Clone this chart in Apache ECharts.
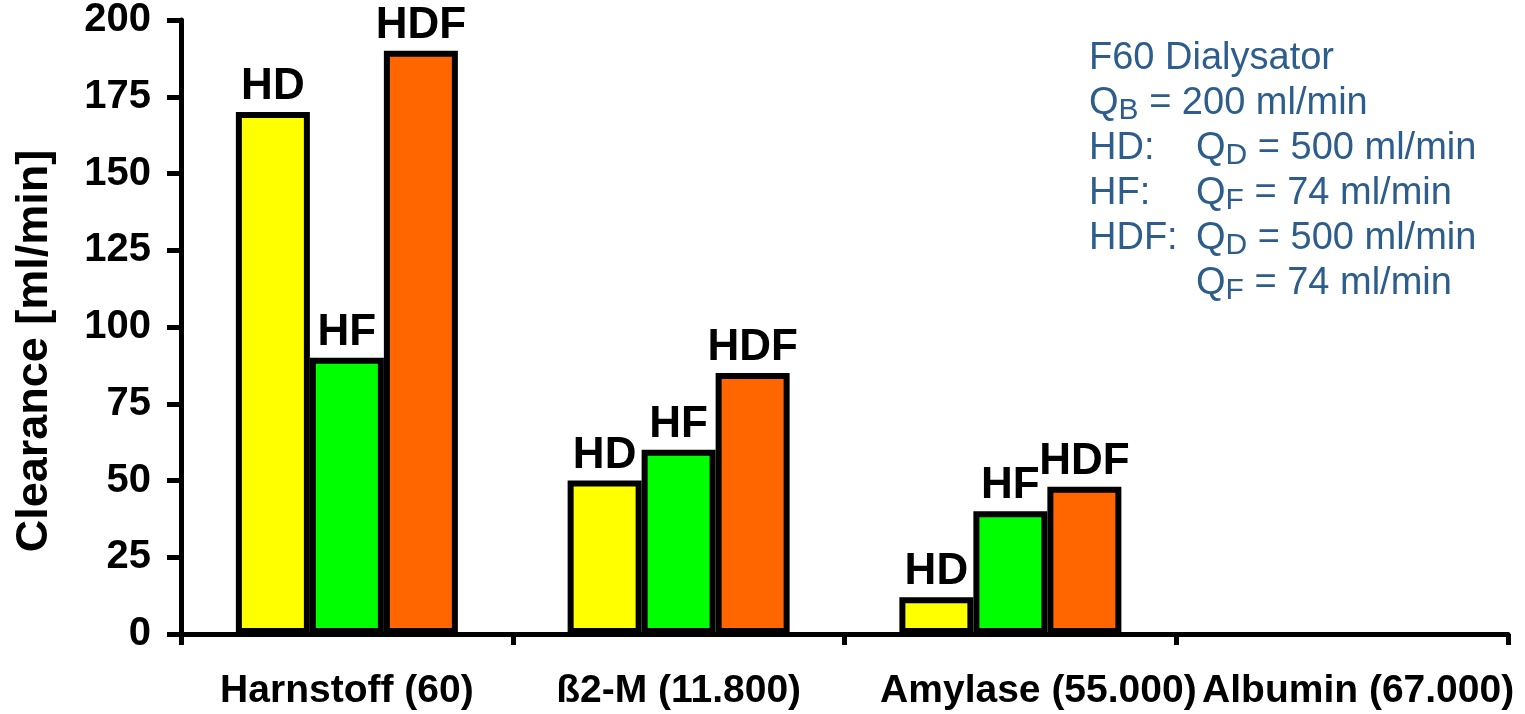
<!DOCTYPE html>
<html>
<head>
<meta charset="utf-8">
<script src="https://cdn.jsdelivr.net/npm/echarts@6/dist/echarts.min.js"></script>
<style>
html,body{margin:0;padding:0;background:#fff;}
#chart{width:1525px;height:714px;}
</style>
</head>
<body>
<div id="chart"></div>
<script>
var categories = ['Harnstoff (60)', 'ß2-M (11.800)', 'Amylase (55.000)', 'Albumin (67.000)'];
var seriesNames = ['HD', 'HF', 'HDF'];
var hdValues = [170, 50, 12, 0];
var hfValues = [90, 60, 40, 0];
var hdfValues = [190, 85, 48, 0];
var yMin = 0, yMax = 200, yInterval = 25;
var yAxisTitle = 'Clearance [ml/min]';
var noteLines = [
  '{m|F60 Dialysator}',
  '{m|Q}{s|B}{m| = 200 ml/min}',
  '{a|HD:}{m|Q}{s|D}{m| = 500 ml/min}',
  '{a|HF:}{m|Q}{s|F}{m| = 74 ml/min}',
  '{a|HDF:}{m|Q}{s|D}{m| = 500 ml/min}',
  '{a| }{m|Q}{s|F}{m| = 74 ml/min}'
];
var labelShift = [0, 0, 56, 32];

var FONT = '"Liberation Sans", Arial, sans-serif';
var colors = ['#FFFF00', '#00FF00', '#FF6600'];
var allValues = [hdValues, hfValues, hdfValues];

var chart = echarts.init(document.getElementById('chart'), null, {renderer: 'canvas'});

var series = seriesNames.map(function (name, i) {
  return {
    name: name,
    type: 'bar',
    data: allValues[i].map(function (v) {
      return v > 0 ? v : {value: v, itemStyle: {borderWidth: 0}};
    }),
    barWidth: 74,
    barGap: '0%',
    itemStyle: {color: colors[i], borderColor: '#000', borderWidth: 6},
    label: {
      show: true,
      position: 'top',
      distance: 3,
      fontFamily: FONT,
      fontWeight: 'bold',
      fontSize: 44,
      color: '#000',
      formatter: function (p) { return p.value > 0 ? p.seriesName : ''; }
    },
    animation: false
  };
});

var NOTE_COLOR = '#2D5D8C';
var CLEAR = 'rgba(0,0,0,0)';
function noteTitle(top, mainColor, subColor) {
  return {
    left: 1089,
    top: top,
    padding: 0,
    text: noteLines.join('\n'),
    textStyle: {
      fontFamily: FONT,
      fontWeight: 'normal',
      fontSize: 38,
      lineHeight: 45,
      color: mainColor,
      rich: {
        m: {fontFamily: FONT, fontSize: 38, lineHeight: 45, color: mainColor},
        a: {fontFamily: FONT, fontSize: 38, lineHeight: 45, color: mainColor, width: 107},
        s: {fontFamily: FONT, fontSize: 30, lineHeight: 45, color: subColor}
      }
    }
  };
}

var option = {
  backgroundColor: '#fff',
  animation: false,
  title: [
    noteTitle(36, NOTE_COLOR, CLEAR),
    noteTitle(43, CLEAR, NOTE_COLOR)
  ],
  grid: {left: 181, right: 17, top: 15, bottom: 80, containLabel: false},
  xAxis: {
    type: 'category',
    data: categories.map(function (c, i) {
      return {value: c, textStyle: {padding: [0, 0, 0, labelShift[i]]}};
    }),
    axisLine: {show: true, onZero: false, lineStyle: {color: '#000', width: 5}},
    axisTick: {show: true, alignWithLabel: false, length: 11, lineStyle: {color: '#000', width: 5}},
    axisLabel: {
      interval: 0,
      margin: 38,
      fontFamily: FONT,
      fontWeight: 'bold',
      fontSize: 39,
      color: '#000'
    },
    splitLine: {show: false}
  },
  yAxis: {
    type: 'value',
    min: yMin,
    max: yMax,
    interval: yInterval,
    name: yAxisTitle,
    nameLocation: 'middle',
    nameGap: 124,
    nameRotate: 90,
    nameTextStyle: {
      fontFamily: FONT,
      fontWeight: 'bold',
      fontSize: 45,
      color: '#000',
      padding: [0, 48, 0, 0]
    },
    axisLine: {show: true, lineStyle: {color: '#000', width: 5}},
    axisTick: {show: true, length: 14, lineStyle: {color: '#000', width: 5}},
    axisLabel: {
      margin: 30,
      fontFamily: FONT,
      fontWeight: 'bold',
      fontSize: 40,
      color: '#000'
    },
    splitLine: {show: false}
  },
  series: series
};
chart.setOption(option);
</script>
</body>
</html>
